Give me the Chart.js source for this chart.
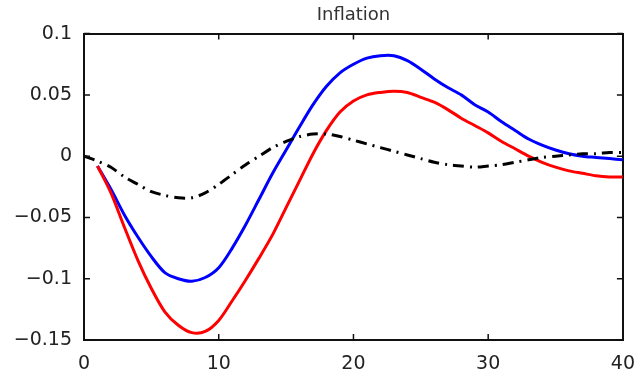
<!DOCTYPE html>
<html>
<head>
<meta charset="utf-8">
<script src="https://cdn.jsdelivr.net/npm/chart.js@4/dist/chart.umd.min.js"></script>
<style>
  html, body { margin: 0; padding: 0; background: #fff; }
  #wrap { width: 640px; height: 370px; }
</style>
</head>
<body>
<div id="wrap"><canvas id="myChart" width="640" height="370"></canvas></div>
<script>
// periods
var periodsShort = [1,2,3,4,5,6,7,8,9,10,11,12,13,14,15,16,17,18,19,20,21,22,23,24,25,26,27,28,29,30,31,32,33,34,35,36,37,38,39,40];
var periodsLong = [0,1,2,3,4,5,6,7,8,9,10,11,12,13,14,15,16,17,18,19,20,21,22,23,24,25,26,27,28,29,30,31,32,33,34,35,36,37,38,39,40];

// blue solid line
var blueValues = [-0.008,-0.027,-0.048,-0.066,-0.082,-0.095,-0.100,-0.102,-0.099,-0.091,
  -0.075,-0.056,-0.035,-0.014,0.005,0.024,0.042,0.057,0.068,0.075,
  0.080,0.082,0.082,0.078,0.071,0.063,0.056,0.050,0.042,0.036,
  0.028,0.021,0.014,0.009,0.005,0.002,0.000,-0.001,-0.002,-0.003];

// red solid line
var redValues = [-0.008,-0.030,-0.058,-0.085,-0.108,-0.127,-0.138,-0.144,-0.143,-0.134,
  -0.118,-0.101,-0.083,-0.064,-0.042,-0.020,0.002,0.021,0.036,0.045,
  0.050,0.052,0.053,0.052,0.048,0.044,0.038,0.031,0.025,0.019,
  0.012,0.006,0.000,-0.005,-0.009,-0.012,-0.014,-0.016,-0.017,-0.017];

// black dash-dot line
var blackValues = [0.000,-0.004,-0.009,-0.017,-0.023,-0.029,-0.032,-0.034,-0.034,-0.030,
  -0.023,-0.015,-0.007,0.000,0.007,0.012,0.016,0.018,0.018,0.016,
  0.013,0.010,0.007,0.004,0.001,-0.002,-0.005,-0.007,-0.008,-0.009,
  -0.008,-0.007,-0.005,-0.003,-0.001,0.000,0.001,0.002,0.002,0.003,0.003];

var xTickLabels = ['0','10','20','30','40'];
var yTickLabels = ['\u22120.15','\u22120.1','\u22120.05','0','0.05','0.1'];

function toPoints(xs, ys) {
  return xs.map(function(x, i) { return {x: x, y: ys[i]}; });
}

// small inward ticks on all four sides, like matlab
var innerTicks = {
  id: 'innerTicks',
  afterDraw: function(chart) {
    var ctx = chart.ctx, a = chart.chartArea;
    var xs = chart.scales.x, ys = chart.scales.y;
    ctx.save();
    ctx.strokeStyle = '#111';
    ctx.lineWidth = 1.5;
    ctx.beginPath();
    xs.ticks.forEach(function(tk) {
      var px = xs.getPixelForValue(tk.value);
      ctx.moveTo(px, a.bottom); ctx.lineTo(px, a.bottom - 6);
      ctx.moveTo(px, a.top); ctx.lineTo(px, a.top + 6);
    });
    ys.ticks.forEach(function(tk) {
      var py = ys.getPixelForValue(tk.value);
      ctx.moveTo(a.left, py); ctx.lineTo(a.left + 6, py);
      ctx.moveTo(a.right, py); ctx.lineTo(a.right - 6, py);
    });
    ctx.stroke();
    ctx.restore();
  }
};

var labelFont = "DejaVu Sans, Verdana, sans-serif";
var frame = { display: true, color: "#111", width: 2 };

new Chart("myChart", {
  type: "line",
  data: {
    datasets: [{
      data: toPoints(periodsLong, blackValues),
      borderColor: "#000000",
      borderWidth: 3,
      borderDash: [11, 6, 2, 6],
      pointRadius: 0,
      tension: 0.3,
      fill: false
    }, {
      data: toPoints(periodsShort, redValues),
      borderColor: "#ff0000",
      borderWidth: 3,
      pointRadius: 0,
      tension: 0.3,
      fill: false
    }, {
      data: toPoints(periodsShort, blueValues),
      borderColor: "#0000ff",
      borderWidth: 3,
      pointRadius: 0,
      tension: 0.3,
      fill: false
    }]
  },
  options: {
    responsive: false,
    animation: false,
    layout: { padding: { left: 0, right: 16, top: 0, bottom: 0 } },
    plugins: {
      legend: { display: false },
      tooltip: { enabled: false },
      title: {
        display: true,
        text: "Inflation",
        fullSize: false,
        color: "#333",
        font: { family: labelFont, size: 18, weight: "normal" },
        padding: { top: 5, bottom: 7 }
      }
    },
    scales: {
      x: {
        type: "linear",
        min: 0,
        max: 40,
        grid: { display: false },
        border: frame,
        ticks: {
          stepSize: 10,
          padding: 5,
          color: "#222",
          maxRotation: 0,
          font: { family: labelFont, size: 19 },
          callback: function(value, index) { return xTickLabels[index]; }
        },
        afterFit: function(scale) { scale.height = 30; }
      },
      xTop: {
        type: "linear",
        position: "top",
        min: 0,
        max: 40,
        grid: { display: false },
        border: frame,
        ticks: { display: false },
        afterFit: function(scale) { scale.height = 0; }
      },
      y: {
        min: -0.15,
        max: 0.1,
        grid: { display: false },
        border: frame,
        ticks: {
          stepSize: 0.05,
          padding: 4,
          color: "#222",
          font: { family: labelFont, size: 19 },
          callback: function(value, index) { return yTickLabels[index]; }
        },
        afterFit: function(scale) { scale.width = 84; }
      },
      yRight: {
        position: "right",
        min: -0.15,
        max: 0.1,
        grid: { display: false },
        border: frame,
        ticks: { display: false },
        afterFit: function(scale) { scale.width = 0; }
      }
    }
  },
  plugins: [innerTicks]
});
</script>
</body>
</html>
